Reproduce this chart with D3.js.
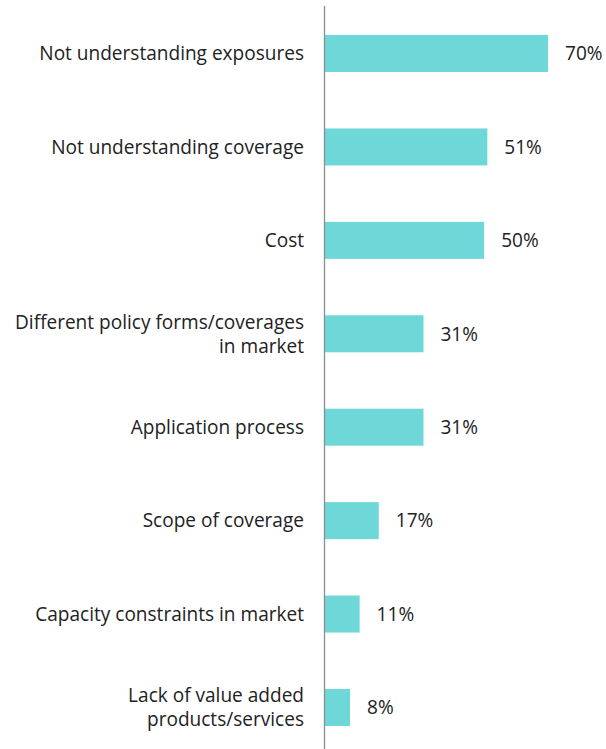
<!DOCTYPE html>
<html>
<head>
<meta charset="utf-8">
<script src="https://cdn.jsdelivr.net/npm/d3@7"></script>
<style>
  html, body { margin: 0; padding: 0; background: #fff; }
  svg text { font-family: "Open Sans", "Lato", sans-serif; fill: #222; }
</style>
</head>
<body>
<svg id="chart" width="606" height="749"></svg>
<script>
// Survey responses: barriers to purchasing coverage
const categories = [
  ["Not understanding exposures"],
  ["Not understanding coverage"],
  ["Cost"],
  ["Different policy forms/coverages", "in market"],
  ["Application process"],
  ["Scope of coverage"],
  ["Capacity constraints in market"],
  ["Lack of value added", "products/services"]
];
const values = [70, 51, 50, 31, 31, 17, 11, 8];
const valueLabels = ["70%", "51%", "50%", "31%", "31%", "17%", "11%", "8%"];

const svg = d3.select("#chart");
const W = 606, H = 749;

const x = d3.scaleLinear().domain([0, 70]).range([324.5, 548]);
const y = d3.scaleBand()
  .domain(d3.range(categories.length))
  .range([7, 754])
  .paddingInner(0.604)
  .paddingOuter(0.3);

svg.selectAll("rect.bar")
  .data(values)
  .join("rect")
  .attr("class", "bar")
  .attr("x", x(0))
  .attr("y", (d, i) => y(i))
  .attr("width", d => x(d) - x(0))
  .attr("height", y.bandwidth())
  .attr("fill", "#6ed7d7");

// font size chosen so the longest single-line label spans its slot
const probe = svg.append("text").attr("font-size", 20).text(categories[0][0]);
const fs = 20 * 265 / probe.node().getComputedTextLength();
probe.remove();
const lineH = fs * 1.25;

svg.selectAll("text.cat")
  .data(categories)
  .join("text")
  .attr("class", "cat")
  .attr("text-anchor", "end")
  .attr("font-size", fs)
  .each(function (lines, i) {
    const cy = y(i) + y.bandwidth() / 2;
    const t = d3.select(this);
    const first = cy - (lines.length - 1) * lineH / 2;
    lines.forEach((ln, k) => {
      t.append("tspan")
        .attr("x", 304)
        .attr("y", first + k * lineH)
        .attr("dy", "0.36em")
        .text(ln);
    });
  });

// value labels
svg.selectAll("text.val")
  .data(values)
  .join("text")
  .attr("class", "val")
  .attr("font-size", fs)
  .attr("x", d => x(d) + 17)
  .attr("y", (d, i) => y(i) + y.bandwidth() / 2)
  .attr("dy", "0.36em")
  .text((d, i) => valueLabels[i]);

// vertical category axis line
svg.append("line")
  .attr("x1", x(0)).attr("x2", x(0))
  .attr("y1", 6).attr("y2", H)
  .attr("stroke", "#8c8c8c")
  .attr("stroke-width", 1.3);
</script>
</body>
</html>
